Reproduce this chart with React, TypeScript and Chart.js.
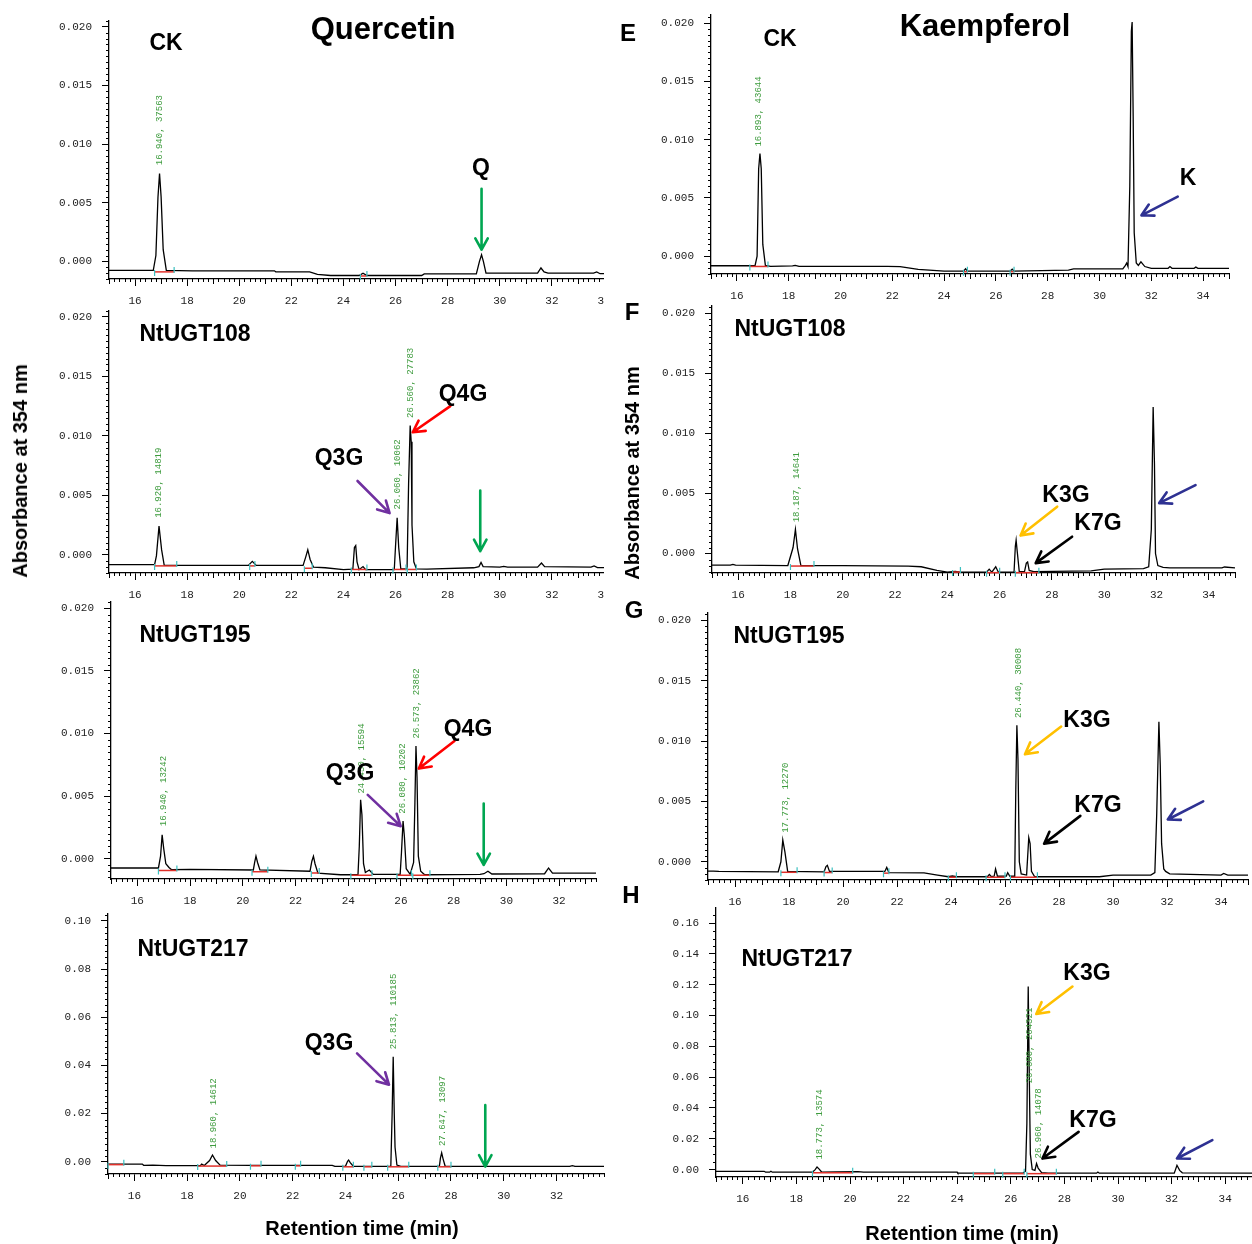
import React, { useEffect, useRef } from "react";
import { Chart, registerables } from "chart.js";

Chart.register(...registerables);

type Pt = [number, number];
type PeakLabel = [number, number, string];
type Mark = [number, number, number];
type Arrow = [number, number, number, number, string];

// ---------------- axis ticks ----------------
const X_TICKS_TO_34 = [16, 18, 20, 22, 24, 26, 28, 30, 32, 34];
const X_TICKS_TO_32 = [16, 18, 20, 22, 24, 26, 28, 30, 32];
const Y_TICKS_SMALL = [0, 0.005, 0.01, 0.015, 0.02];
const Y_TICKS_D = [0, 0.02, 0.04, 0.06, 0.08, 0.1];
const Y_TICKS_H = [0, 0.02, 0.04, 0.06, 0.08, 0.1, 0.12, 0.14, 0.16];

// ---------------- chromatograms (retention time min, absorbance) ----------------
const quercetinCK: Pt[] = [
  [15, -0.00077], [16.7, -0.00077], [16.8, 0.0005], [16.88, 0.0055], [16.94, 0.0075], [17.0, 0.0055],
  [17.08, 0.001], [17.2, -0.00077], [18.2, -0.0008], [20, -0.0008], [21.35, -0.0008], [21.4, -0.00088],
  [22.7, -0.0009], [23.0, -0.0011], [23.5, -0.0012], [24.6, -0.0012], [24.75, -0.001], [24.9, -0.0012],
  [27.0, -0.0012], [27.1, -0.00106], [29.1, -0.00106], [29.22, 0.0], [29.3, 0.00057], [29.37, 0.0],
  [29.47, -0.001], [31.45, -0.001], [31.58, -0.00056], [31.7, -0.0009], [31.85, -0.001], [33.6, -0.001],
  [33.72, -0.0009], [33.85, -0.00105], [34, -0.00105],
];

const quercetinUGT108: Pt[] = [
  [15, -0.00084], [16.75, -0.00084], [16.82, -0.0001], [16.92, 0.0024], [17.02, 0.0004], [17.12, -0.0009],
  [17.9, -0.0009], [20.35, -0.0009], [20.5, -0.00056], [20.65, -0.0009], [22.45, -0.0009], [22.55, -0.0002],
  [22.63, 0.00042], [22.72, -0.0004], [22.85, -0.00105], [23.3, -0.0011], [24.0, -0.00126], [24.36, -0.00122],
  [24.42, 0.0006], [24.47, 0.00076], [24.52, -0.0006], [24.6, -0.00126], [24.75, -0.001], [24.85, -0.00126],
  [25.95, -0.00126], [26.0, 0.0008], [26.06, 0.0031], [26.12, 0.0006], [26.2, -0.0012], [26.44, -0.0012],
  [26.5, 0.006], [26.56, 0.01086], [26.6, 0.0095], [26.63, 0.0025], [26.7, -0.0006], [26.8, -0.0012],
  [27.2, -0.00122], [29.0, -0.0011], [29.2, -0.001], [29.28, -0.00065], [29.36, -0.001], [30.0, -0.00105],
  [30.15, -0.00098], [30.3, -0.00105], [31.45, -0.00105], [31.6, -0.0007], [31.72, -0.001], [33.5, -0.00105],
  [33.62, -0.00095], [33.75, -0.00108], [34, -0.00108],
];

const quercetinUGT195: Pt[] = [
  [15, -0.00074], [16.8, -0.00074], [16.88, 0.0002], [16.94, 0.0019], [17.0, 0.0008], [17.08, -0.0004],
  [17.2, -0.0007], [17.3, -0.00088], [18.0, -0.00085], [20.4, -0.0009], [20.45, -0.0003], [20.5, 0.0002],
  [20.56, -0.0003], [20.65, -0.0009], [22.55, -0.001], [22.62, -0.0002], [22.68, 0.0002], [22.74, -0.0004],
  [22.85, -0.00115], [23.7, -0.00128], [24.37, -0.00128], [24.42, 0.001], [24.47, 0.0047], [24.52, 0.0035],
  [24.58, -0.0004], [24.65, -0.0011], [24.8, -0.0009], [24.95, -0.00125], [25.97, -0.00125], [26.02, 0.0005],
  [26.08, 0.003], [26.13, 0.0018], [26.2, -0.0008], [26.35, -0.00125], [26.48, -0.0003], [26.53, 0.0045],
  [26.57, 0.009], [26.61, 0.0065], [26.66, 0.0002], [26.75, -0.001], [26.9, -0.00128], [29.0, -0.00125],
  [29.15, -0.0012], [29.3, -0.001], [29.45, -0.00122], [31.45, -0.0012], [31.6, -0.00074], [31.75, -0.00115],
  [33.4, -0.00115],
];

const quercetinUGT217: Pt[] = [
  [15, -0.001], [16.3, -0.001], [16.35, -0.0015], [16.7, -0.0014], [17.2, -0.0016], [18.5, -0.0016],
  [18.55, -0.001], [18.65, -0.0016], [18.85, 0.0005], [18.96, 0.0028], [19.08, 0.0005], [19.25, -0.0014],
  [20.4, -0.0015], [23.5, -0.0015], [23.6, -0.0019], [24.0, -0.0019], [24.08, 0.0002], [24.12, 0.0007],
  [24.18, -0.0004], [24.3, -0.0019], [25.72, -0.0019], [25.77, 0.02], [25.81, 0.0436], [25.85, 0.02],
  [25.88, 0.006], [25.95, -0.0014], [26.1, -0.0019], [27.56, -0.0019], [27.6, 0.0015], [27.647, 0.0037],
  [27.7, 0.0012], [27.78, -0.0019], [32.5, -0.0019], [32.6, -0.0016], [32.7, -0.0019], [33.8, -0.0019],
];

const kaempferolCK: Pt[] = [
  [15, -0.00083], [16.7, -0.00083], [16.78, 0.0], [16.84, 0.0075], [16.89, 0.0088], [16.94, 0.0075],
  [17.0, 0.001], [17.1, -0.0008], [17.3, -0.00088], [18.15, -0.00085], [18.25, -0.0008], [18.4, -0.00088],
  [21.8, -0.00088], [22.3, -0.0009], [23.0, -0.00114], [24.0, -0.0013], [24.75, -0.0013], [24.83, -0.0011],
  [24.9, -0.0013], [26.55, -0.0013], [26.63, -0.00112], [26.7, -0.0013], [28.8, -0.0012], [29.0, -0.0011],
  [30.9, -0.0011], [31.0, -0.0008], [31.05, -0.0006], [31.1, -0.0009], [31.17, 0.006], [31.23, 0.0193],
  [31.26, 0.0201], [31.3, 0.012], [31.34, 0.002], [31.42, -0.0006], [31.5, -0.0008], [31.6, -0.0005],
  [31.75, -0.0009], [32.0, -0.00105], [32.65, -0.00105], [32.72, -0.0009], [32.8, -0.00105], [33.65, -0.00105],
  [33.72, -0.00095], [33.8, -0.00105], [35, -0.00105],
];

const kaempferolUGT108: Pt[] = [
  [15, -0.00097], [15.7, -0.00097], [15.8, -0.0009], [15.9, -0.00097], [17.9, -0.001], [18.1, 0.0005],
  [18.19, 0.002], [18.27, 0.0004], [18.4, -0.001], [20.0, -0.001], [22.5, -0.00105], [23.0, -0.0011],
  [23.6, -0.0014], [24.0, -0.00155], [24.3, -0.00148], [24.5, -0.00155], [25.5, -0.00155], [25.6, -0.0013],
  [25.7, -0.00155], [25.85, -0.0011], [25.95, -0.00155], [26.55, -0.00155], [26.6, 0.0006], [26.63, 0.0011],
  [26.68, 0.0], [26.75, -0.0015], [26.95, -0.0015], [27.02, -0.0008], [27.07, -0.0007], [27.13, -0.0014],
  [27.3, -0.0015], [29.5, -0.00145], [30.0, -0.0013], [31.5, -0.00125], [31.7, -0.0011], [31.8, 0.002],
  [31.87, 0.0122], [31.92, 0.0075], [31.96, 0.0], [32.05, -0.001], [32.25, -0.00115], [32.5, -0.0012],
  [34.5, -0.0012], [34.6, -0.00112], [35, -0.0012],
];

const kaempferolUGT195: Pt[] = [
  [15, -0.00077], [15.2, -0.00077], [15.4, -0.0008], [17.6, -0.00083], [17.7, 0.0], [17.77, 0.0018],
  [17.85, 0.0008], [17.95, -0.0008], [19.3, -0.00083], [19.37, -0.0004], [19.42, -0.0003], [19.5, -0.0008],
  [21.55, -0.0008], [21.62, -0.00047], [21.7, -0.0009], [23.0, -0.00092], [23.5, -0.0011], [23.9, -0.00124],
  [24.05, -0.00118], [24.2, -0.00124], [25.35, -0.00124], [25.42, -0.00105], [25.5, -0.00124], [25.6, -0.00118],
  [25.65, -0.0006], [25.72, -0.0012], [26.05, -0.00118], [26.1, -0.0009], [26.18, -0.0012], [26.36, -0.0012],
  [26.4, 0.006], [26.44, 0.0113], [26.48, 0.0085], [26.53, 0.0], [26.6, -0.001], [26.8, -0.0011],
  [26.88, 0.002], [26.93, 0.0015], [26.98, -0.0008], [27.1, -0.00124], [29.5, -0.00124], [30.0, -0.0011],
  [31.4, -0.0011], [31.55, -0.0009], [31.62, 0.004], [31.7, 0.0116], [31.75, 0.008], [31.8, 0.0015],
  [31.88, -0.0006], [31.95, -0.0008], [32.1, -0.001], [34.0, -0.0011], [34.1, -0.00097], [34.25, -0.0011],
  [35, -0.0011],
];

const kaempferolUGT217: Pt[] = [
  [15, -0.0011], [16.8, -0.0011], [16.85, -0.0017], [17.0, -0.0017], [17.05, -0.0011], [17.1, -0.0017],
  [18.6, -0.0017], [18.7, 0.0], [18.77, 0.0017], [18.85, 0.0003], [18.95, -0.0017], [19.5, -0.0015],
  [20.3, -0.0013], [20.5, -0.0017], [24.0, -0.0017], [24.02, -0.0023], [26.45, -0.0023], [26.55, -0.001],
  [26.6, 0.03], [26.65, 0.1188], [26.69, 0.06], [26.73, 0.01], [26.8, 0.0], [26.9, -0.0005], [26.96, 0.0039],
  [27.02, 0.001], [27.15, -0.002], [27.4, -0.0023], [29.2, -0.0023], [29.25, -0.0016], [29.3, -0.0023],
  [32.1, -0.0023], [32.2, 0.0028], [32.3, -0.0005], [32.4, -0.0021], [35, -0.0023],
];

// ---------------- integrator peak labels (rt, absorbance where label starts, text) ----------------
const peaksQCK: PeakLabel[] = [[16.94, 0.0082, "16.940, 37563"]];
const peaksQ108: PeakLabel[] = [
  [16.92, 0.0031, "16.920, 14819"], [26.08, 0.0038, "26.060, 10062"], [26.56, 0.0115, "26.560, 27783"],
];
const peaksQ195: PeakLabel[] = [
  [16.98, 0.0026, "16.940, 13242"], [24.49, 0.0052, "24.450, 15594"], [26.07, 0.0036, "26.080, 10202"],
  [26.58, 0.0096, "26.573, 23862"],
];
const peaksQ217: PeakLabel[] = [
  [19.02, 0.0055, "18.960, 14612"], [25.82, 0.0467, "25.813, 110185"], [27.7, 0.0065, "27.647, 13097"],
];
const peaksKCK: PeakLabel[] = [[16.84, 0.0094, "16.893, 43644"]];
const peaksK108: PeakLabel[] = [[18.22, 0.0026, "18.187, 14641"]];
const peaksK195: PeakLabel[] = [[17.86, 0.0024, "17.773, 12270"], [26.5, 0.0119, "26.440, 30008"]];
const peaksK217: PeakLabel[] = [
  [18.85, 0.0065, "18.773, 13574"], [26.69, 0.056, "26.680, 264321"], [27.05, 0.0072, "26.960, 14078"],
];

// ---------------- integration baselines (start rt, end rt, absorbance) ----------------
const marksQCK: Mark[] = [[16.75, 17.5, -0.00085], [24.65, 24.9, -0.0012]];
const marksQ108: Mark[] = [
  [16.75, 17.6, -0.0009], [20.4, 20.6, -0.0009], [22.5, 22.8, -0.0011], [24.3, 24.9, -0.0012],
  [25.9, 26.4, -0.0012], [26.45, 26.8, -0.0012],
];
const marksQ195: Mark[] = [
  [16.8, 17.5, -0.0009], [20.35, 20.95, -0.001], [22.6, 22.9, -0.0011], [24.1, 24.9, -0.00128],
  [25.85, 26.4, -0.00128], [26.45, 27.1, -0.00128],
];
const marksQ217: Mark[] = [
  [15, 15.6, -0.001], [18.4, 19.5, -0.0016], [20.4, 20.8, -0.0015], [22.1, 22.3, -0.0015],
  [23.9, 24.3, -0.0019], [24.7, 25.0, -0.0019], [25.6, 26.4, -0.0019], [27.5, 28.0, -0.0019],
];
const marksKCK: Mark[] = [[16.5, 17.2, -0.00085], [24.75, 24.9, -0.0013], [26.55, 26.7, -0.0013]];
const marksK108: Mark[] = [[18.0, 18.9, -0.001], [24.2, 24.5, -0.0015], [25.5, 26.0, -0.00155], [26.6, 27.5, -0.00155]];
const marksK195: Mark[] = [
  [17.7, 18.3, -0.00083], [19.3, 19.6, -0.00085], [21.5, 21.7, -0.0009], [23.9, 24.2, -0.00124],
  [25.3, 26.0, -0.00124], [26.2, 27.2, -0.00124],
];
const marksK217: Mark[] = [[18.6, 20.1, -0.0017], [24.6, 25.4, -0.0023], [25.7, 26.5, -0.0023], [26.6, 27.7, -0.0023]];

// ---------------- arrows (from rt, abs -> to rt, abs, colour) ----------------
const GREEN = "#00a651";
const PURPLE = "#7030a0";
const RED = "#ff0000";
const ORANGE = "#ffc000";
const BLUE = "#2e3192";
const BLACK = "#000000";

const arrowsQCK: Arrow[] = [[29.3, 0.0062, 29.3, 0.001, GREEN]];
const arrowsQ108: Arrow[] = [
  [24.54, 0.0062, 25.77, 0.0035, PURPLE], [28.1, 0.0125, 26.66, 0.0103, RED], [29.25, 0.0054, 29.25, 0.0003, GREEN],
];
const arrowsQ195: Arrow[] = [
  [24.74, 0.0051, 25.99, 0.0026, PURPLE], [28.03, 0.0094, 26.68, 0.0072, RED], [29.14, 0.0044, 29.14, -0.0005, GREEN],
];
const arrowsQ217: Arrow[] = [[24.44, 0.045, 25.65, 0.032, PURPLE], [29.3, 0.0235, 29.3, -0.002, GREEN]];
const arrowsKCK: Arrow[] = [[33.02, 0.0051, 31.62, 0.0035, BLUE]];
const arrowsK108: Arrow[] = [
  [28.2, 0.0039, 26.8, 0.0015, ORANGE], [28.77, 0.0014, 27.38, -0.0008, BLACK], [33.49, 0.0057, 32.1, 0.0042, BLUE],
];
const arrowsK195: Arrow[] = [
  [28.08, 0.0112, 26.74, 0.0089, ORANGE], [28.79, 0.0038, 27.45, 0.0015, BLACK], [33.34, 0.005, 32.03, 0.0035, BLUE],
];
const arrowsK217: Arrow[] = [
  [28.3, 0.1188, 26.95, 0.101, ORANGE], [28.53, 0.0245, 27.18, 0.0072, BLACK], [33.52, 0.0191, 32.2, 0.0072, BLUE],
];

// ---------------- layout ----------------
const Y_W = 60;
const X_H = 26;
const MONO = "'Liberation Mono', 'DejaVu Sans Mono', monospace";
const SANS = "'Liberation Sans', Arial, Helvetica, sans-serif";

type PanelDef = {
  id: string;
  canvas: [number, number, number, number];
  area: [number, number, number, number];
  xMax: number;
  yMin: number;
  yMax: number;
  xTicks: number[];
  yTicks: number[];
  dec: number;
  yMinor: number;
  trace: Pt[];
  peaks: PeakLabel[];
  marks: Mark[];
  arrows: Arrow[];
};

const PANELS: PanelDef[] = [
  { id: "A", canvas: [0, 0, 604, 306], area: [109, 21, 604, 279], xMax: 34, yMin: -0.0015, yMax: 0.0205,
    xTicks: X_TICKS_TO_34, yTicks: Y_TICKS_SMALL, dec: 3, yMinor: 0.0005, trace: quercetinCK, peaks: peaksQCK, marks: marksQCK, arrows: arrowsQCK },
  { id: "B", canvas: [0, 306, 604, 294], area: [109, 311, 604, 573], xMax: 34, yMin: -0.00154, yMax: 0.0205,
    xTicks: X_TICKS_TO_34, yTicks: Y_TICKS_SMALL, dec: 3, yMinor: 0.0005, trace: quercetinUGT108, peaks: peaksQ108, marks: marksQ108, arrows: arrowsQ108 },
  { id: "C", canvas: [0, 600, 604, 308], area: [111, 602, 596, 879], xMax: 33.4, yMin: -0.00162, yMax: 0.0205,
    xTicks: X_TICKS_TO_32, yTicks: Y_TICKS_SMALL, dec: 3, yMinor: 0.0005, trace: quercetinUGT195, peaks: peaksQ195, marks: marksQ195, arrows: arrowsQ195 },
  { id: "D", canvas: [0, 908, 606, 336], area: [108, 914, 604, 1174], xMax: 33.8, yMin: -0.0051, yMax: 0.1029,
    xTicks: X_TICKS_TO_32, yTicks: Y_TICKS_D, dec: 2, yMinor: 0.0025, trace: quercetinUGT217, peaks: peaksQ217, marks: marksQ217, arrows: arrowsQ217 },
  { id: "E", canvas: [612, 0, 640, 300], area: [711, 15, 1229, 274], xMax: 35, yMin: -0.00154, yMax: 0.0207,
    xTicks: X_TICKS_TO_34, yTicks: Y_TICKS_SMALL, dec: 3, yMinor: 0.0005, trace: kaempferolCK, peaks: peaksKCK, marks: marksKCK, arrows: arrowsKCK },
  { id: "F", canvas: [612, 300, 640, 302], area: [712, 306, 1235, 573], xMax: 35, yMin: -0.00162, yMax: 0.0206,
    xTicks: X_TICKS_TO_34, yTicks: Y_TICKS_SMALL, dec: 3, yMinor: 0.0005, trace: kaempferolUGT108, peaks: peaksK108, marks: marksK108, arrows: arrowsK108 },
  { id: "G", canvas: [612, 602, 640, 304], area: [708, 613, 1248, 880], xMax: 35, yMin: -0.00151, yMax: 0.0206,
    xTicks: X_TICKS_TO_34, yTicks: Y_TICKS_SMALL, dec: 3, yMinor: 0.0005, trace: kaempferolUGT195, peaks: peaksK195, marks: marksK195, arrows: arrowsK195 },
  { id: "H", canvas: [612, 906, 640, 338], area: [716, 908, 1252, 1177], xMax: 35, yMin: -0.0048, yMax: 0.1698,
    xTicks: X_TICKS_TO_34, yTicks: Y_TICKS_H, dec: 2, yMinor: 0.005, trace: kaempferolUGT217, peaks: peaksK217, marks: marksK217, arrows: arrowsK217 },
];

type Lbl = { t: string; x: number; y: number; s: number; rot?: boolean };
const LABELS: Lbl[] = [
  { t: "Quercetin", x: 383, y: 28, s: 31 },
  { t: "Kaempferol", x: 985, y: 25, s: 31 },
  { t: "CK", x: 166, y: 42, s: 23 },
  { t: "Q", x: 481, y: 167, s: 23 },
  { t: "NtUGT108", x: 195, y: 333, s: 23 },
  { t: "Q3G", x: 339, y: 457, s: 23 },
  { t: "Q4G", x: 463, y: 393, s: 23 },
  { t: "NtUGT195", x: 195, y: 634, s: 23 },
  { t: "Q3G", x: 350, y: 772, s: 23 },
  { t: "Q4G", x: 468, y: 728, s: 23 },
  { t: "NtUGT217", x: 193, y: 948, s: 23 },
  { t: "Q3G", x: 329, y: 1042, s: 23 },
  { t: "E", x: 628, y: 33, s: 24 },
  { t: "CK", x: 780, y: 38, s: 23 },
  { t: "K", x: 1188, y: 177, s: 23 },
  { t: "F", x: 632, y: 312, s: 24 },
  { t: "NtUGT108", x: 790, y: 328, s: 23 },
  { t: "K3G", x: 1066, y: 494, s: 23 },
  { t: "K7G", x: 1098, y: 522, s: 23 },
  { t: "G", x: 634, y: 610, s: 24 },
  { t: "NtUGT195", x: 789, y: 635, s: 23 },
  { t: "K3G", x: 1087, y: 719, s: 23 },
  { t: "K7G", x: 1098, y: 804, s: 23 },
  { t: "H", x: 631, y: 895, s: 24 },
  { t: "NtUGT217", x: 797, y: 958, s: 23 },
  { t: "K3G", x: 1087, y: 972, s: 23 },
  { t: "K7G", x: 1093, y: 1119, s: 23 },
  { t: "Retention time (min)", x: 362, y: 1228, s: 20 },
  { t: "Retention time (min)", x: 962, y: 1233, s: 20 },
  { t: "Absorbance at 354 nm", x: 20, y: 471, s: 20, rot: true },
  { t: "Absorbance at 354 nm", x: 632, y: 473, s: 20, rot: true },
];

function decorPlugin(p: PanelDef) {
  return {
    id: "decor" + p.id,
    afterDraw(chart: any) {
      const { ctx, chartArea: a } = chart;
      const xs = chart.scales.x;
      const ys = chart.scales.y;
      ctx.save();
      // minor ticks on x
      ctx.strokeStyle = "#000";
      ctx.lineWidth = 1;
      const nx = Math.round((p.xMax - 15) / 0.2);
      ctx.beginPath();
      for (let k = 0; k <= nx; k++) {
        if (k % 10 === 5) continue;
        const px = Math.round(xs.getPixelForValue(15 + k * 0.2)) + 0.5;
        const len = k % 10 === 0 ? 5 : 3;
        ctx.moveTo(px, a.bottom);
        ctx.lineTo(px, a.bottom + len);
      }
      // minor ticks on y
      const step = p.yMinor;
      const every = Math.round((p.yTicks[1] - p.yTicks[0]) / step);
      const k0 = Math.ceil(p.yMin / step);
      const k1 = Math.floor(p.yMax / step);
      for (let k = k0; k <= k1; k++) {
        if (k % every === 0) continue;
        const py = Math.round(ys.getPixelForValue(k * step)) + 0.5;
        ctx.moveTo(a.left, py);
        ctx.lineTo(a.left - 3, py);
      }
      ctx.stroke();

      // integration baselines
      ctx.lineWidth = 1.5;
      for (const [x1, x2, v] of p.marks) {
        const py = ys.getPixelForValue(v) + 0.5;
        const p1 = xs.getPixelForValue(x1);
        const p2 = xs.getPixelForValue(x2);
        ctx.strokeStyle = "#e0302a";
        ctx.beginPath();
        ctx.moveTo(p1, py);
        ctx.lineTo(p2, py);
        ctx.stroke();
        ctx.strokeStyle = "#3cc0c0";
        ctx.lineWidth = 1.2;
        ctx.beginPath();
        ctx.moveTo(p1, py - 2);
        ctx.lineTo(p1, py + 4);
        ctx.moveTo(p2, py - 5);
        ctx.lineTo(p2, py + 1);
        ctx.stroke();
        ctx.lineWidth = 1.5;
      }

      // integrator peak labels
      ctx.fillStyle = "#3d9b3d";
      ctx.font = "9px " + MONO;
      ctx.textAlign = "left";
      ctx.textBaseline = "middle";
      for (const [x, v, text] of p.peaks) {
        ctx.save();
        ctx.translate(xs.getPixelForValue(x), ys.getPixelForValue(v));
        ctx.rotate(-Math.PI / 2);
        ctx.fillText(text, 0, 0);
        ctx.restore();
      }

      // arrows
      ctx.lineCap = "round";
      ctx.lineJoin = "round";
      for (const [x1, v1, x2, v2, col] of p.arrows) {
        const ax = xs.getPixelForValue(x1);
        const ay = ys.getPixelForValue(v1);
        const bx = xs.getPixelForValue(x2);
        const by = ys.getPixelForValue(v2);
        const ang = Math.atan2(by - ay, bx - ax);
        const h = 13;
        ctx.strokeStyle = col;
        ctx.lineWidth = 2.6;
        ctx.beginPath();
        ctx.moveTo(ax, ay);
        ctx.lineTo(bx, by);
        ctx.moveTo(bx - h * Math.cos(ang - 0.5), by - h * Math.sin(ang - 0.5));
        ctx.lineTo(bx, by);
        ctx.lineTo(bx - h * Math.cos(ang + 0.5), by - h * Math.sin(ang + 0.5));
        ctx.stroke();
      }
      ctx.restore();
    },
  };
}

function Panel({ p }: { p: PanelDef }) {
  const ref = useRef<HTMLCanvasElement | null>(null);
  useEffect(() => {
    if (!ref.current) return;
    const [cx, cy, cw, ch] = p.canvas;
    const [L, T, R, B] = p.area;
    const padding = {
      left: L - cx - Y_W,
      top: T - cy,
      right: cx + cw - R,
      bottom: cy + ch - B - X_H,
    };
    const zeroPad = (s: any) => {
      s.paddingLeft = 0;
      s.paddingRight = 0;
      s.paddingTop = 0;
      s.paddingBottom = 0;
    };
    const chart = new Chart(ref.current, {
      type: "line",
      data: {
        datasets: [
          {
            data: p.trace.map(([x, y]) => ({ x, y })),
            borderColor: "#000",
            borderWidth: 1.3,
            pointRadius: 0,
            tension: 0,
            fill: false,
          },
        ],
      },
      options: {
        animation: false,
        responsive: false,
        maintainAspectRatio: false,
        events: [],
        layout: { padding, autoPadding: false },
        plugins: { legend: { display: false }, tooltip: { enabled: false }, title: { display: false } },
        scales: {
          x: {
            type: "linear",
            min: 15,
            max: p.xMax,
            afterFit: (s: any) => {
              s.height = X_H;
              zeroPad(s);
            },
            afterBuildTicks: (s: any) => {
              s.ticks = p.xTicks.map((v) => ({ value: v }));
            },
            ticks: {
              autoSkip: false,
              maxRotation: 0,
              minRotation: 0,
              padding: 8,
              color: "#222",
              font: { family: MONO, size: 11 },
              callback: (v: any) => String(v),
            },
            grid: { display: true, drawOnChartArea: false, drawTicks: true, tickLength: 7, color: "#000", tickColor: "#000", tickWidth: 1 },
            border: { display: true, color: "#000", width: 1.3 },
          },
          y: {
            type: "linear",
            min: p.yMin,
            max: p.yMax,
            afterFit: (s: any) => {
              s.width = Y_W;
              zeroPad(s);
            },
            afterBuildTicks: (s: any) => {
              s.ticks = p.yTicks.map((v) => ({ value: v }));
            },
            ticks: {
              autoSkip: false,
              padding: 10,
              color: "#222",
              font: { family: MONO, size: 11 },
              callback: (v: any) => Number(v).toFixed(p.dec),
            },
            grid: { display: true, drawOnChartArea: false, drawTicks: true, tickLength: 7, color: "#000", tickColor: "#000", tickWidth: 1 },
            border: { display: true, color: "#000", width: 1.3 },
          },
        },
      } as any,
      plugins: [decorPlugin(p)],
    });
    return () => chart.destroy();
  }, [p]);
  const [cx, cy, cw, ch] = p.canvas;
  return (
    <canvas
      ref={ref}
      width={cw}
      height={ch}
      style={{ position: "absolute", left: cx, top: cy, width: cw, height: ch, display: "block" }}
    />
  );
}

export default function App() {
  return (
    <div
      style={{
        position: "absolute",
        left: 0,
        top: 0,
        width: 1252,
        height: 1244,
        background: "#fff",
        overflow: "hidden",
        fontFamily: SANS,
      }}
    >
      {PANELS.map((p) => (
        <Panel key={p.id} p={p} />
      ))}
      {LABELS.map((l, i) => (
        <div
          key={i}
          style={{
            position: "absolute",
            left: l.x,
            top: l.y,
            transform: l.rot ? "translate(-50%, -50%) rotate(-90deg)" : "translate(-50%, -50%)",
            fontFamily: SANS,
            fontWeight: 700,
            fontSize: l.s,
            lineHeight: 1,
            whiteSpace: "nowrap",
            color: "#000",
          }}
        >
          {l.t}
        </div>
      ))}
    </div>
  );
}
